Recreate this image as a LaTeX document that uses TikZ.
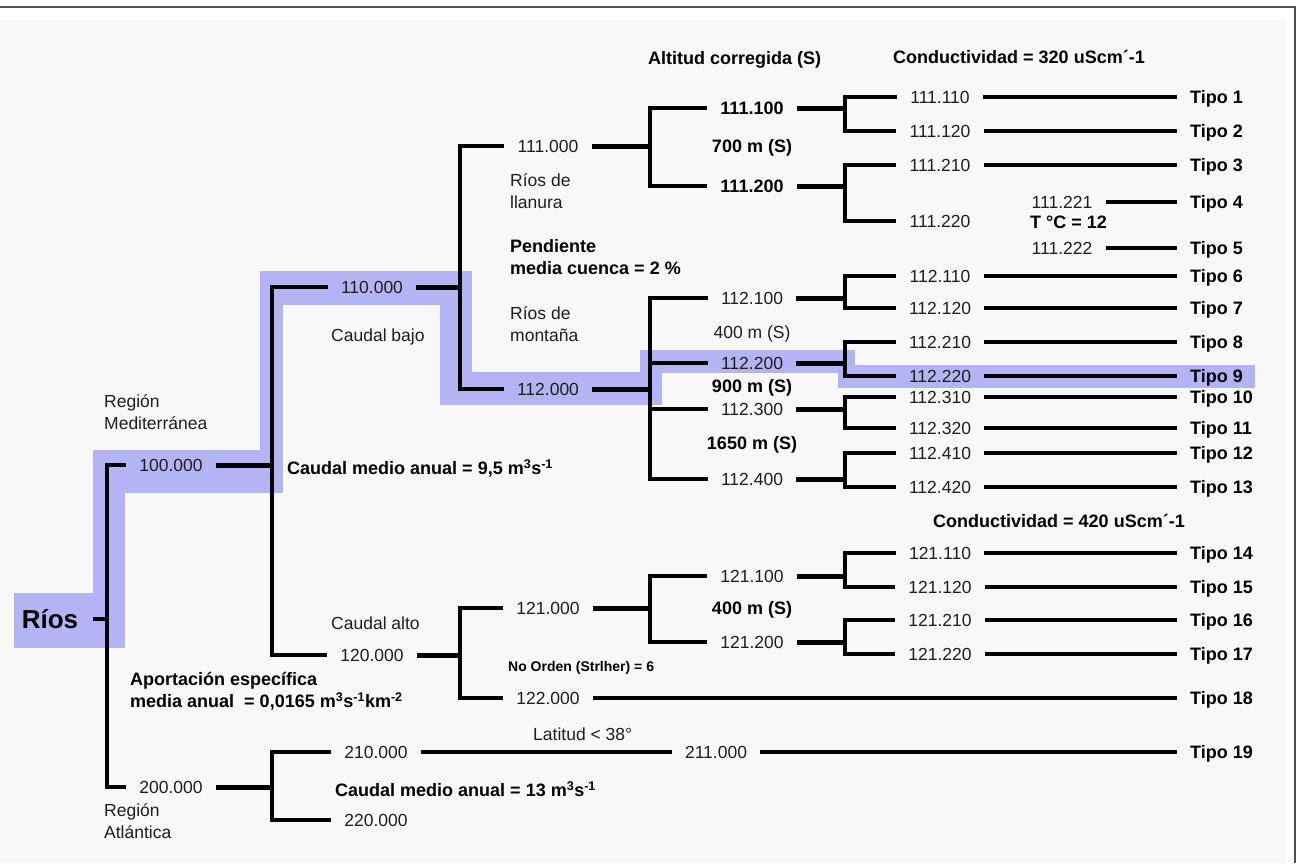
\documentclass[tikz,border=0pt]{standalone}
\usepackage{fontspec}
\setmainfont{Liberation Sans}
\definecolor{hl}{RGB}{180,180,245}
\definecolor{bgc}{RGB}{248,248,248}
\definecolor{numc}{RGB}{30,30,30}
\definecolor{framec}{RGB}{80,80,80}
\begin{document}
\begin{tikzpicture}[x=1pt,y=-1pt,
  num/.style={font=\fontsize{17.5}{20}\selectfont, text=numc, inner xsep=13pt, inner ysep=0pt, text height=12.5pt, text depth=0pt},
  bnum/.style={num, font=\fontsize{18}{20}\selectfont\bfseries, text=black, text height=12.9pt},
  tipo/.style={bnum, anchor=west},
  lbl/.style={font=\fontsize{17.5}{20}\selectfont, text=numc, inner sep=0pt, text height=12.5pt, text depth=0pt, anchor=west},
  blbl/.style={lbl, font=\fontsize{18}{20}\selectfont\bfseries, text=black, text height=12.9pt},
  clbl/.style={anchor=center},
  conn/.style={line width=3.8pt},
  pconn/.style={line width=5pt},
  hlfill/.style={fill=hl, draw=none},
]
\useasboundingbox (0,0) rectangle (1297,863);
% background and frame
\fill[white] (0,0) rectangle (1297,863);
\fill[bgc] (0,20) rectangle (1286,863);
\draw[framec, line width=2pt] (0,7) -- (1295,7) -- (1295,863);

% highlighted path
\fill[hlfill] (14,593) rectangle (125,648);
\fill[hlfill] (93,450) rectangle (125,593);
\fill[hlfill] (93,450) rectangle (283,493);
\fill[hlfill] (260,271) rectangle (283,493);
\fill[hlfill] (260,271) rectangle (472,305);
\fill[hlfill] (440,271) rectangle (472,405);
\fill[hlfill] (440,372) rectangle (662,405);
\fill[hlfill] (640,350) rectangle (662,405);
\fill[hlfill] (640,350) rectangle (855,373);
\fill[hlfill] (838,365) rectangle (1255,388);

% nodes
\node[bnum, font=\fontsize{26}{28}\selectfont\bfseries, text height=18.6pt, inner xsep=15pt] (rios) at (50,619) {Ríos};

\node[num] (n100) at (171,465) {100.000};
\node[num] (n200) at (171,787) {200.000};

\node[num] (n110) at (372,287) {110.000};
\node[num] (n120) at (372,655) {120.000};
\node[num] (n210) at (376,752) {210.000};
\node[num] (n220) at (376,820) {220.000};

\node[num] (n111) at (548,146) {111.000};
\node[num] (n112) at (548,389) {112.000};
\node[num] (n121) at (548,608) {121.000};
\node[num] (n122) at (548,698) {122.000};

\node[bnum] (n1111) at (752,108) {111.100};
\node[bnum] (n1112) at (752,186) {111.200};
\node[num] (n1121) at (752,298) {112.100};
\node[num] (n1122) at (752,363) {112.200};
\node[num] (n1123) at (752,409) {112.300};
\node[num] (n1124) at (752,479) {112.400};
\node[num] (n1211) at (752,576) {121.100};
\node[num] (n1212) at (752,642) {121.200};

\node[num] (e11) at (940,97) {111.110};
\node[num] (e12) at (940,131) {111.120};
\node[num] (e13) at (940,165) {111.210};
\node[num] (e14) at (940,221) {111.220};
\node[num] (e21) at (940,276) {112.110};
\node[num] (e22) at (940,308) {112.120};
\node[num] (e23) at (940,342) {112.210};
\node[num] (e24) at (940,376) {112.220};
\node[num] (e25) at (940,397) {112.310};
\node[num] (e26) at (940,428) {112.320};
\node[num] (e27) at (940,453) {112.410};
\node[num] (e28) at (940,487) {112.420};
\node[num] (e31) at (940,553) {121.110};
\node[num] (e32) at (940,587) {121.120};
\node[num] (e33) at (940,620) {121.210};
\node[num] (e34) at (940,654) {121.220};
\node[num] (f1) at (1062,202) {111.221};
\node[num] (f2) at (1062,248) {111.222};
\node[num] (n211) at (716,752) {211.000};

\foreach \i/\y in {1/97,2/131,3/165,4/202,5/248,6/276,7/308,8/342,9/376,10/397,11/428,12/453,13/487,14/553,15/587,16/620,17/654,18/698,19/752}
  \node[tipo] (t\i) at (1177,\y) {Tipo \i};

% labels
\node[blbl] (altitud) at (648,58) {Altitud corregida (S)};
\node[blbl] (cond1) at (893,57) {Conductividad = 320 uScm´-1};
\node[blbl] (cond2) at (933,521) {Conductividad = 420 uScm´-1};
\node[blbl, clbl] (m700) at (752,146) {700 m (S)};
\node[lbl, clbl] (m400a) at (752,332) {400 m (S)};
\node[blbl, clbl] (m900) at (752,386) {900 m (S)};
\node[blbl, clbl] (m1650) at (752,443) {1650 m (S)};
\node[blbl, clbl] (m400b) at (752,608) {400 m (S)};
\node[blbl] (temp) at (1030,222) {T °C = 12};
\node[lbl] (llan1) at (510,180) {Ríos de};
\node[lbl] (llan2) at (510,202) {llanura};
\node[blbl] (pend1) at (510,246) {Pendiente};
\node[blbl] (pend2) at (510,268) {media cuenca = 2 \%};
\node[lbl] (mont1) at (510,313) {Ríos de};
\node[lbl] (mont2) at (510,335) {montaña};
\node[lbl] (cbajo) at (331,335) {Caudal bajo};
\node[lbl] (med1) at (104,401) {Región};
\node[lbl] (med2) at (104,423) {Mediterránea};
\node[blbl] (cm95) at (287,468) {Caudal medio anual = 9,5 m\textsuperscript{3}s\textsuperscript{-1}};
\node[lbl] (calto) at (331,623) {Caudal alto};
\node[blbl, font=\fontsize{14}{16}\selectfont\bfseries, text height=10pt] (orden) at (508,666) {No Orden (Strlher) = 6};
\node[blbl] (apo1) at (130,679) {Aportación específica};
\node[blbl] (apo2) at (130,701) {media anual\ \ = 0,0165 m\textsuperscript{3}s\textsuperscript{-1}km\textsuperscript{-2}};
\node[lbl] (lat) at (533,734) {Latitud < 38°};
\node[blbl] (cm13) at (335,790) {Caudal medio anual = 13 m\textsuperscript{3}s\textsuperscript{-1}};
\node[lbl] (atl1) at (104,810) {Región};
\node[lbl] (atl2) at (104,832) {Atlántica};

% junctions
\coordinate (jR) at (107,619);
\coordinate (j100) at (272,465);
\coordinate (j200) at (272,787);
\coordinate (j110) at (460,287);
\coordinate (j120) at (460,655);
\coordinate (j111) at (650,146);
\coordinate (j112) at (650,389);
\coordinate (j121) at (650,608);
\coordinate (k1) at (845,108);
\coordinate (k2) at (845,186);
\coordinate (k3) at (845,298);
\coordinate (k4) at (845,363);
\coordinate (k5) at (845,409);
\coordinate (k6) at (845,479);
\coordinate (k7) at (845,576);
\coordinate (k8) at (845,642);

% connectors
\draw[conn] (rios.east) -- (jR);
\draw[conn] (n100.west) -| (jR) |- (n200.west);
\draw[pconn] (n100.east) -- (j100);
\draw[conn] (n110.west) -| (j100) |- (n120.west);
\draw[pconn] (n200.east) -- (j200);
\draw[conn] (n210.west) -| (j200) |- (n220.west);
\draw[pconn] (n110.east) -- (j110);
\draw[conn] (n111.west) -| (j110) |- (n112.west);
\draw[pconn] (n120.east) -- (j120);
\draw[conn] (n121.west) -| (j120) |- (n122.west);
\draw[pconn] (n111.east) -- (j111);
\draw[conn] (n1111.west) -| (j111) |- (n1112.west);
\draw[pconn] (n112.east) -- (j112);
\draw[conn] (n1121.west) -| (j112) |- (n1124.west);
\draw[conn] (n1122.west) -- (n1122.west -| j112);
\draw[conn] (n1123.west) -- (n1123.west -| j112);
\draw[pconn] (n121.east) -- (j121);
\draw[conn] (n1211.west) -| (j121) |- (n1212.west);

\draw[pconn] (n1111.east) -- (k1);
\draw[conn] (e11.west) -| (k1) |- (e12.west);
\draw[pconn] (n1112.east) -- (k2);
\draw[conn] (e13.west) -| (k2) |- (e14.west);
\draw[pconn] (n1121.east) -- (k3);
\draw[conn] (e21.west) -| (k3) |- (e22.west);
\draw[pconn] (n1122.east) -- (k4);
\draw[conn] (e23.west) -| (k4) |- (e24.west);
\draw[pconn] (n1123.east) -- (k5);
\draw[conn] (e25.west) -| (k5) |- (e26.west);
\draw[pconn] (n1124.east) -- (k6);
\draw[conn] (e27.west) -| (k6) |- (e28.west);
\draw[pconn] (n1211.east) -- (k7);
\draw[conn] (e31.west) -| (k7) |- (e32.west);
\draw[pconn] (n1212.east) -- (k8);
\draw[conn] (e33.west) -| (k8) |- (e34.west);

\draw[conn] (e11.east) -- (t1.west);
\draw[conn] (e12.east) -- (t2.west);
\draw[conn] (e13.east) -- (t3.west);
\draw[conn] (f1.east) -- (t4.west);
\draw[conn] (f2.east) -- (t5.west);
\draw[conn] (e21.east) -- (t6.west);
\draw[conn] (e22.east) -- (t7.west);
\draw[conn] (e23.east) -- (t8.west);
\draw[conn] (e24.east) -- (t9.west);
\draw[conn] (e25.east) -- (t10.west);
\draw[conn] (e26.east) -- (t11.west);
\draw[conn] (e27.east) -- (t12.west);
\draw[conn] (e28.east) -- (t13.west);
\draw[conn] (e31.east) -- (t14.west);
\draw[conn] (e32.east) -- (t15.west);
\draw[conn] (e33.east) -- (t16.west);
\draw[conn] (e34.east) -- (t17.west);
\draw[conn] (n122.east) -- (t18.west);
\draw[conn] (n210.east) -- (n211.west);
\draw[conn] (n211.east) -- (t19.west);
\end{tikzpicture}
\end{document}
